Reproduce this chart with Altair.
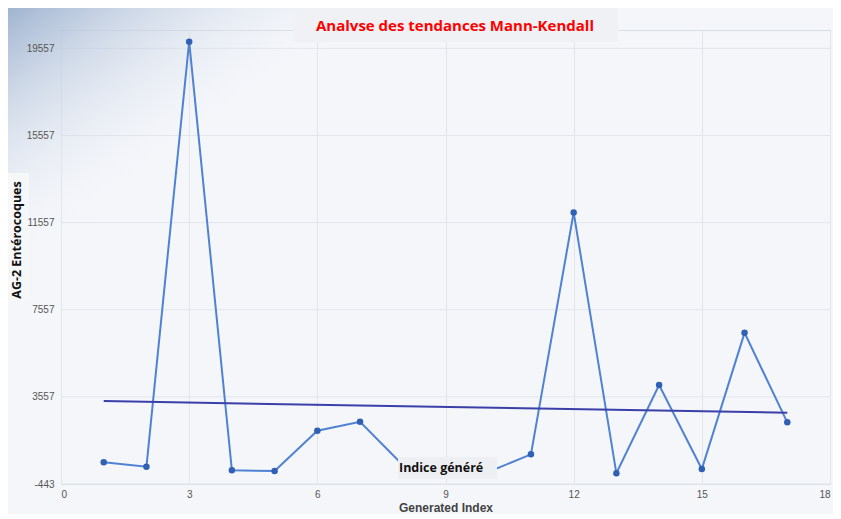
import altair as alt
import pandas as pd

# ---- data ----
index_values = list(range(1, 18))
enterococci = [552, 351, 19864, 185, 153, 2002, 2415, 430, 200, 110, 919,
               12020, 48, 4098, 245, 6497, 2387]
trend_index = [1, 17]
trend_values = [3364, 2828]
y_ticks = [-443, 3557, 7557, 11557, 15557, 19557]
x_ticks = [0, 3, 6, 9, 12, 15, 18]

title_text = "Analvse des tendances Mann-Kendall"
y_title_text = "AG-2 Entérocoques"
x_title_text = "Generated Index"
legend_text = "Indice généré"

series = pd.DataFrame({"idx": index_values, "val": enterococci})
trend = pd.DataFrame({"idx": trend_index, "val": trend_values})
ygrid = pd.DataFrame({"val": y_ticks})

W, H = 769, 454
xscale = alt.Scale(domain=[0, 18], nice=False, zero=False)
yscale = alt.Scale(domain=[-443, 20400], nice=False, zero=False)

x_enc = alt.X("idx:Q", scale=xscale,
              axis=alt.Axis(values=x_ticks, title=x_title_text, grid=True,
                            gridColor="#e2e5eb", domain=False, ticks=False,
                            labelFont="Liberation Sans", labelFontSize=10,
                            labelColor="#555555", labelPadding=5,
                            titleFont="Liberation Sans", titleFontSize=12,
                            titleFontWeight="bold", titleColor="#444444",
                            titlePadding=3))
y_axis = alt.Axis(values=y_ticks, title=None, grid=False,
                  domain=False, ticks=False, zindex=1,
                  labelExpr="'' + datum.value",
                  labelFont="Liberation Sans", labelFontSize=10,
                  labelColor="#555555", labelPadding=7)

grid_rules = alt.Chart(ygrid).mark_rule(color="#e2e5eb", strokeWidth=1).encode(
    y=alt.Y("val:Q", scale=yscale, axis=y_axis)
)

gradient = alt.Chart(pd.DataFrame({"a": [0]})).mark_rect(
    color={
        "gradient": "linear", "x1": 0, "y1": 0, "x2": 1, "y2": 1,
        "stops": [
            {"offset": 0, "color": "rgba(160,180,208,1)"},
            {"offset": 0.5, "color": "rgba(244,246,250,0)"},
        ],
    }
).encode(x=alt.value(-53), x2=alt.value(330), y=alt.value(-22), y2=alt.value(250))

line = alt.Chart(series).mark_line(color="#5082d2", strokeWidth=2).encode(
    x=x_enc, y=alt.Y("val:Q", scale=yscale, axis=y_axis))
points = alt.Chart(series).mark_circle(color="#2f60b4", size=42, opacity=1).encode(x="idx:Q", y="val:Q")
trend_line = alt.Chart(trend).mark_line(color="#3b3fa8", strokeWidth=2).encode(x="idx:Q", y="val:Q")

one = pd.DataFrame({"a": [0]})
title_box = alt.Chart(one).mark_rect(color="#eff1f4").encode(
    x=alt.value(232), x2=alt.value(557), y=alt.value(-26), y2=alt.value(12))
title_mark = alt.Chart(one).mark_text(
    text=title_text, color="#ff0000", font="Open Sans", fontWeight="bold",
    fontSize=15, align="center", baseline="middle"
).encode(x=alt.value(394), y=alt.value(-4))

ytitle_box = alt.Chart(one).mark_rect(color="#f6f7f9").encode(
    x=alt.value(-55), x2=alt.value(-32), y=alt.value(143), y2=alt.value(271))
ytitle_mark = alt.Chart(one).mark_text(
    text=y_title_text, color="#111111", font="Open Sans", fontWeight="bold",
    fontSize=12.5, angle=270, align="center", baseline="middle"
).encode(x=alt.value(-44), y=alt.value(210))

label_box = alt.Chart(one).mark_rect(color="#eeeff2").encode(
    x=alt.value(337), x2=alt.value(436), y=alt.value(427), y2=alt.value(449))
label_mark = alt.Chart(one).mark_text(
    text=legend_text, color="#111111", font="Open Sans", fontWeight="bold",
    fontSize=12.5, align="left", baseline="middle"
).encode(x=alt.value(338), y=alt.value(438))

chart = alt.layer(
    grid_rules, gradient, line, points, trend_line,
    title_box, title_mark, ytitle_box, ytitle_mark, label_box, label_mark
).properties(
    width=W, height=H,
    autosize=alt.AutoSizeParams(type="none"),
    padding={"left": 53, "top": 22, "right": 3, "bottom": 30},
    background="#f4f6fa",
).configure_view(stroke="#d9dde4", strokeWidth=1)

chart.save("out.html", embed_options={"renderer": "svg", "actions": False})
